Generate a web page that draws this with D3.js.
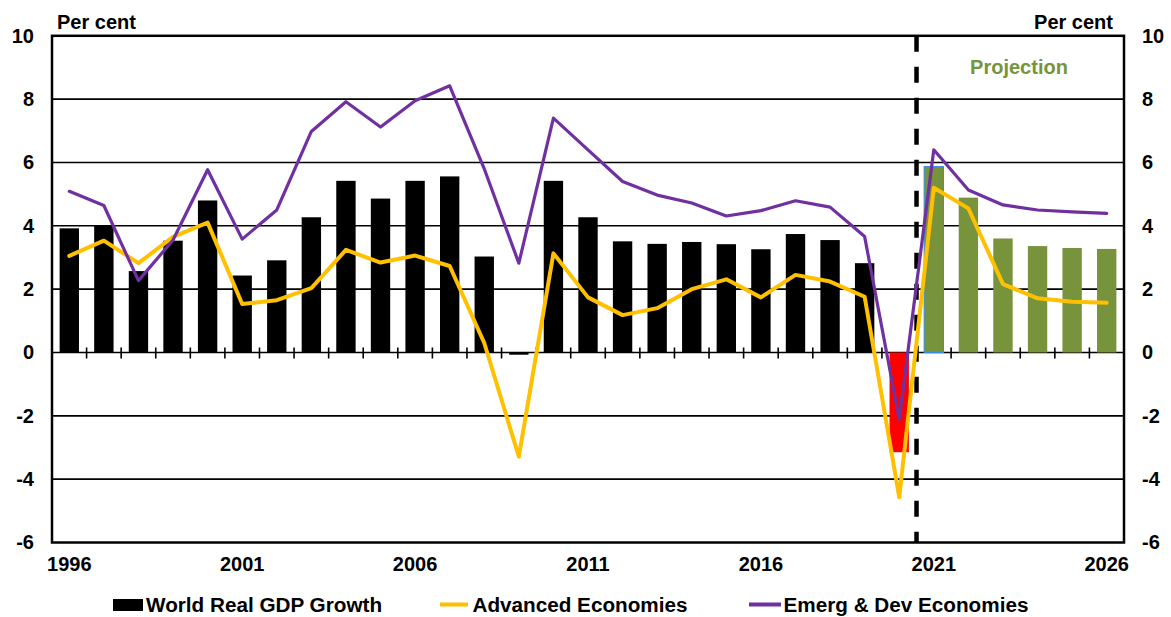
<!DOCTYPE html>
<html>
<head>
<meta charset="utf-8">
<script src="https://cdn.jsdelivr.net/npm/d3@7"></script>
<style>
  html, body { margin: 0; padding: 0; background: #fff; }
  svg { display: block; }
  text { font-family: "Liberation Sans", Arial, Helvetica, sans-serif; font-weight: bold; fill: #000; }
</style>
</head>
<body>
<svg id="chart" width="1171" height="617"></svg>
<script>
// Annual real GDP growth, per cent
const years = d3.range(1996, 2027);
const worldGrowth = [
  3.92, 4.00, 2.57, 3.53, 4.80, 2.43, 2.91, 4.27, 5.42, 4.86,
  5.42, 5.56, 3.03, -0.07, 5.42, 4.27, 3.51, 3.43, 3.49, 3.42,
  3.26, 3.74, 3.55, 2.82, -3.15, 5.87, 4.89, 3.60, 3.36, 3.30, 3.27
];
const advancedGrowth = [
  3.05, 3.53, 2.82, 3.65, 4.10, 1.53, 1.65, 2.03, 3.24, 2.84,
  3.06, 2.73, 0.30, -3.29, 3.13, 1.74, 1.18, 1.40, 2.00, 2.31,
  1.74, 2.45, 2.24, 1.76, -4.57, 5.20, 4.55, 2.16, 1.71, 1.60, 1.57
];
const emergingGrowth = [
  5.09, 4.64, 2.27, 3.55, 5.77, 3.58, 4.50, 6.98, 7.92, 7.12,
  7.95, 8.42, 5.80, 2.82, 7.40, 6.40, 5.40, 4.97, 4.72, 4.31,
  4.48, 4.79, 4.59, 3.66, -2.11, 6.40, 5.13, 4.66, 4.50, 4.44, 4.39
];
const yTicks = [-6, -4, -2, 0, 2, 4, 6, 8, 10];
const xTickYears = [1996, 2001, 2006, 2011, 2016, 2021, 2026];
const firstProjectionYear = 2021;
const legendLabels = ["World Real GDP Growth", "Advanced Economies", "Emerg & Dev Economies"];

const svg = d3.select("#chart");
const plot = { left: 52, right: 1124, top: 35.8, bottom: 542.5 };

const x = d3.scaleBand()
  .domain(years)
  .range([plot.left, plot.right])
  .paddingInner(0.44)
  .paddingOuter(0.22);
const y = d3.scaleLinear().domain([-6, 10]).range([plot.bottom, plot.top]);
const cx = yr => x(yr) + x.bandwidth() / 2;

// horizontal gridlines
svg.append("g")
  .selectAll("line")
  .data(yTicks.filter(v => v > -6 && v < 10))
  .join("line")
  .attr("x1", plot.left).attr("x2", plot.right)
  .attr("y1", d => y(d)).attr("y2", d => y(d))
  .attr("stroke", "#000").attr("stroke-width", 1.6);

// bars
const barColour = yr => yr >= firstProjectionYear ? "#77933C" : (yr === 2020 ? "#FF0000" : "#000000");
svg.append("g")
  .selectAll("rect")
  .data(years.map((yr, i) => ({ yr, v: worldGrowth[i] })))
  .join("rect")
  .attr("x", d => x(d.yr))
  .attr("width", x.bandwidth())
  .attr("y", d => y(Math.max(0, d.v)))
  .attr("height", d => Math.abs(y(d.v) - y(0)))
  .attr("fill", d => barColour(d.yr))
  .attr("stroke", d => d.yr === firstProjectionYear ? "#2F8CF0" : "none")
  .attr("stroke-width", 1);

// category ticks on the zero line
svg.append("g")
  .selectAll("line")
  .data(years.slice(1))
  .join("line")
  .attr("x1", d => x(d) - x.step() * x.paddingInner() / 2)
  .attr("x2", d => x(d) - x.step() * x.paddingInner() / 2)
  .attr("y1", y(0) - 5).attr("y2", y(0) + 6)
  .attr("stroke", "#000").attr("stroke-width", 1.6);

// projection divider
const dividerX = x(firstProjectionYear) - x.step() * x.paddingInner() / 2;
svg.append("line")
  .attr("x1", dividerX).attr("x2", dividerX)
  .attr("y1", plot.top).attr("y2", plot.bottom)
  .attr("stroke", "#000").attr("stroke-width", 4.5)
  .attr("stroke-dasharray", "16,15");

// lines
const line = d3.line().x(d => cx(d.yr)).y(d => y(d.v));
const series = [
  { values: advancedGrowth, colour: "#FFC000", width: 4 },
  { values: emergingGrowth, colour: "#7030A0", width: 3.2 }
];
series.forEach(s => {
  svg.append("path")
    .datum(years.map((yr, i) => ({ yr, v: s.values[i] })))
    .attr("d", line)
    .attr("fill", "none")
    .attr("stroke", s.colour)
    .attr("stroke-width", s.width)
    .attr("stroke-linejoin", "round")
    .attr("stroke-linecap", "round");
});

// plot frame
svg.append("rect")
  .attr("x", plot.left).attr("y", plot.top)
  .attr("width", plot.right - plot.left).attr("height", plot.bottom - plot.top)
  .attr("fill", "none").attr("stroke", "#000").attr("stroke-width", 2.5);

// y axes (both sides); plain hyphen for negative values
const fmt = d => String(d);
const axisL = d3.axisLeft(y).tickValues(yTicks).tickFormat(fmt).tickSize(0).tickPadding(18);
const gl = svg.append("g").attr("transform", `translate(${plot.left},0)`).call(axisL);
const axisR = d3.axisRight(y).tickValues(yTicks).tickFormat(fmt).tickSize(0).tickPadding(18);
const gr = svg.append("g").attr("transform", `translate(${plot.right},0)`).call(axisR);
[gl, gr].forEach(g => {
  g.select(".domain").remove();
  g.selectAll("text").attr("font-size", 20).attr("font-family", null).attr("fill", "#000");
});

// x axis labels
const axisB = d3.axisBottom(x).tickValues(xTickYears).tickSize(0).tickPadding(14);
const gb = svg.append("g").attr("transform", `translate(0,${plot.bottom})`).call(axisB);
gb.select(".domain").remove();
gb.selectAll("text").attr("font-size", 20).attr("font-family", null).attr("fill", "#000");

// unit labels
svg.append("text").attr("x", 57).attr("y", 29).attr("font-size", 20).text("Per cent");
svg.append("text").attr("x", 1113).attr("y", 29).attr("font-size", 20)
  .attr("text-anchor", "end").text("Per cent");

svg.append("text").attr("x", 1019).attr("y", 74).attr("font-size", 20)
  .attr("text-anchor", "middle").style("fill", "#77933C").text("Projection");

// legend
const lg = svg.append("g").attr("font-size", 20.7);
lg.append("rect").attr("x", 113).attr("y", 599).attr("width", 30).attr("height", 12).attr("fill", "#000");
lg.append("text").attr("x", 146).attr("y", 611.5).text(legendLabels[0]);
lg.append("line").attr("x1", 440).attr("x2", 468).attr("y1", 604.5).attr("y2", 604.5)
  .attr("stroke", "#FFC000").attr("stroke-width", 4);
lg.append("text").attr("x", 472.5).attr("y", 611.5).text(legendLabels[1]);
lg.append("line").attr("x1", 749).attr("x2", 781).attr("y1", 604.5).attr("y2", 604.5)
  .attr("stroke", "#7030A0").attr("stroke-width", 4);
lg.append("text").attr("x", 783.5).attr("y", 611.5).text(legendLabels[2]);
</script>
</body>
</html>
